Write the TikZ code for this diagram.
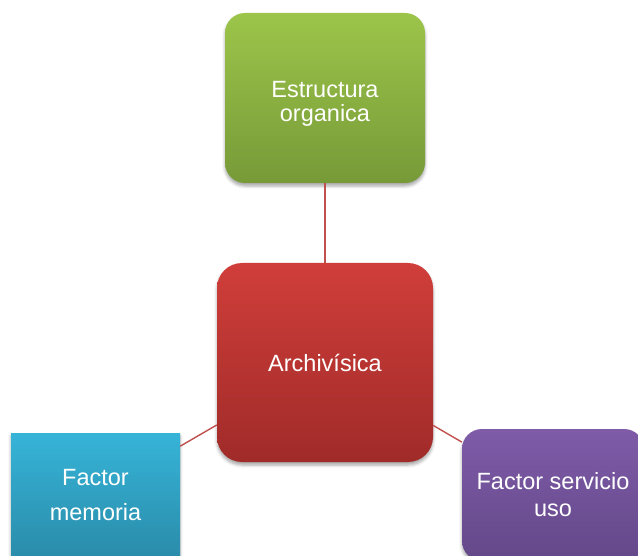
\documentclass[tikz,border=0pt]{standalone}
\usepackage{fontspec}
\setmainfont{Liberation Sans}
\usetikzlibrary{shadows.blur}
\definecolor{gTop}{HTML}{9CC54A}
\definecolor{gBot}{HTML}{779A38}
\definecolor{rTop}{HTML}{D03E3A}
\definecolor{rBot}{HTML}{A02B29}
\definecolor{bTop}{HTML}{36B4D8}
\definecolor{bBot}{HTML}{2A8CAA}
\definecolor{pTop}{HTML}{7F5BA8}
\definecolor{pBot}{HTML}{634889}
\definecolor{linkc}{HTML}{C0504D}
\tikzset{
  box/.style={rectangle, inner sep=0pt, text=white, align=center,
    blur shadow={shadow xshift=0pt, shadow yshift=-3pt, shadow blur radius=3pt, shadow opacity=35}},
  link/.style={draw=linkc, line width=1.4pt}
}
\begin{document}
\begin{tikzpicture}[x=1pt,y=-1pt]
\useasboundingbox (0,0) rectangle (638,556);
\node[box, rounded corners=20pt, minimum width=200pt, minimum height=170pt,
  top color=gTop, bottom color=gBot, font=\fontsize{23.5}{24}\selectfont,
  text height=51pt]
  (est) at (325,98) {Estructura\\organica};
\node[box, rounded corners=25pt, minimum width=216pt, minimum height=199pt,
  top color=rTop, bottom color=rBot, font=\fontsize{23.5}{28}\selectfont]
  (arc) at (325,362.5) {Archivísica};
\node[box, minimum width=169pt, minimum height=124pt,
  top color=bTop, bottom color=bBot, font=\fontsize{23.5}{35}\selectfont]
  (mem) at (95.5,495) {Factor\\memoria};
\node[box, rounded corners=20pt, minimum width=182pt, minimum height=132pt,
  top color=pTop, bottom color=pBot, font=\fontsize{23.5}{27}\selectfont]
  (ser) at (553,495) {Factor servicio\\uso};
\begin{scope}
\draw[link] (est) -- (arc);
\draw[link] (arc) -- (mem);
\draw[link] (arc) -- (ser);
\end{scope}
\end{tikzpicture}
\end{document}
